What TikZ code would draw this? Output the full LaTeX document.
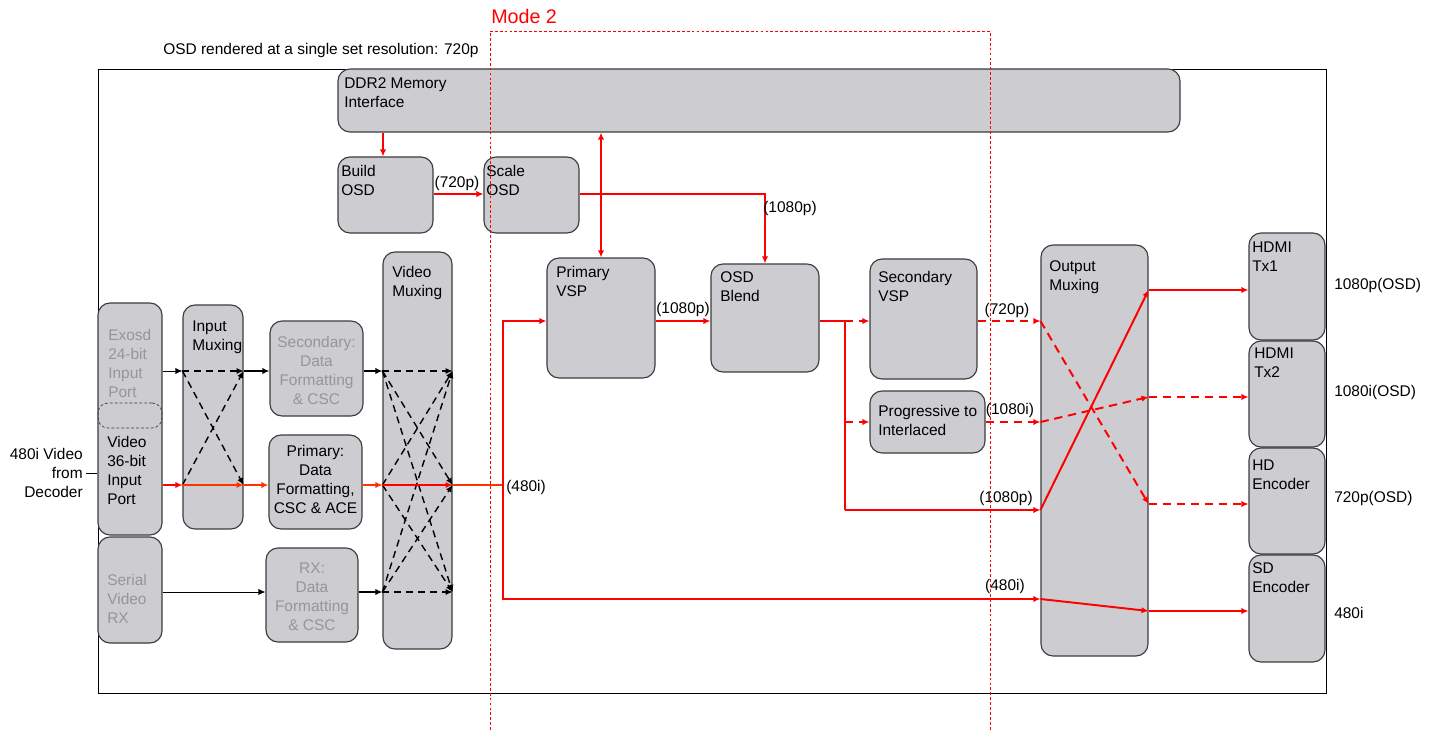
\documentclass[tikz,border=0pt]{standalone}
\usepackage{fontspec}
\setmainfont{Liberation Sans}
\usepackage{tikz}
\usetikzlibrary{positioning,arrows.meta,calc,fit}

\definecolor{boxgray}{RGB}{205,205,209}
\definecolor{boxline}{RGB}{60,60,60}
\definecolor{dimtext}{RGB}{150,150,150}
\definecolor{ored}{RGB}{255,51,0}

\begin{document}
\begin{tikzpicture}[
      x=0.025cm, y=-0.025cm,
      >={Latex[length=5pt,width=4.5pt]}
    ]

    \tikzstyle{blk} = [draw=boxline, fill=boxgray, rounded corners=0.3cm, inner sep=0pt, line width=0.8pt]
    \tikzstyle{txt} = [inner sep=0pt, font=\fontsize{11}{13.5}\selectfont, align=left]
    \tikzstyle{greytext} = [text=dimtext]
    \tikzstyle{sig} = [->, draw=black, line width=0.7pt]
    \tikzstyle{vid} = [->, draw=red, line width=1.4pt]
    \tikzstyle{vidalt} = [vid, dash pattern=on 6pt off 4pt]
    \tikzstyle{muxpath} = [->, draw=black, line width=1pt, dash pattern=on 5pt off 3.5pt]

    \useasboundingbox (0,0) rectangle (1436,730);

    % rows and columns of the signal paths
    \coordinate (rowA) at (0,371);
    \coordinate (rowB) at (0,485);
    \coordinate (rowC) at (0,592);
    \coordinate (rowO) at (0,194);
    \coordinate (rowV) at (0,321);
    \coordinate (rowP) at (0,422);
    \coordinate (rowQ) at (0,510);
    \coordinate (rowS) at (0,599);
    \coordinate (outA) at (0,290);
    \coordinate (outB) at (0,397);
    \coordinate (outC) at (0,504);
    \coordinate (outD) at (0,611);
    \coordinate (colD) at (383,0);
    \coordinate (colB) at (503,0);
    \coordinate (colF) at (845,0);

    % chip outline
    \node [draw, line width=0.7pt, inner sep=0pt, fit={(98,69) (1326,693)}] (chip) {};
    \node [txt, anchor=west] (osdnote) at (163,51) {OSD rendered at a single set resolution: 720p};

    % blocks
    \node [blk, fit={(98,303) (162,535)}] (ports) {};
    \node [draw=boxline, line width=0.5pt, dash pattern=on 2pt off 1.5pt, rounded corners=0.25cm, inner sep=0pt, fit={(98,403) (162,428)}] (portsplit) {};
    \node [blk, fit={(98,537) (162,643)}] (serial) {};
    \node [blk, fit={(183,305) (243,529)}] (inmux) {};
    \node [blk, fit={(270,321) (363,416)}] (secfmt) {};
    \node [blk, fit={(269,435) (362,529)}] (prifmt) {};
    \node [blk, fit={(266,548) (358,642)}] (rxfmt) {};
    \node [blk, fit={(383,252) (452,649)}] (vmux) {};
    \node [blk, fit={(338,69) (1180,132)}] (ddr) {};
    \node [blk, fit={(338,157) (433,233)}] (build) {};
    \node [blk, fit={(484,157) (579,233)}] (scale) {};
    \node [blk, fit={(547,258) (655,378)}] (pvsp) {};
    \node [blk, fit={(711,264) (819,372)}] (blend) {};
    \node [blk, fit={(870,259) (977,379)}] (svsp) {};
    \node [blk, fit={(870,391) (985,453)}] (p2i) {};
    \node [blk, fit={(1041,245) (1148,656)}] (outmux) {};
    \node [blk, fit={(1249,233) (1325,340)}] (hdmi1) {};
    \node [blk, fit={(1249,341) (1325,447)}] (hdmi2) {};
    \node [blk, fit={(1249,448) (1325,554)}] (hdenc) {};
    \node [blk, fit={(1249,555) (1325,662)}] (sdenc) {};

    % block names
    \node [txt, greytext, anchor=north west] (ports-t1) at (108,329.5) {Exosd\\24-bit\\Input\\Port};
    \node [txt, anchor=north west] (ports-t2) at (107,436.5) {Video\\36-bit\\Input\\Port};
    \node [txt, greytext, anchor=north west] (serial-t) at (107,574.5) {Serial\\Video\\RX};
    \node [txt, anchor=north west] (inmux-t) at (192,320.5) {Input\\Muxing};
    \node [txt, greytext, align=center, anchor=north] (secfmt-t) at (316.5,336.5) {Secondary:\\Data\\Formatting\\\& CSC};
    \node [txt, align=center, anchor=north] (prifmt-t) at (315.5,445.5) {Primary:\\Data\\Formatting,\\CSC \& ACE};
    \node [txt, greytext, align=center, anchor=north] (rxfmt-t) at (312,562.5) {RX:\\Data\\Formatting\\\& CSC};
    \node [txt, anchor=north west] (vmux-t) at (392,266.5) {Video\\Muxing};
    \node [txt, anchor=north west] (ddr-t) at (344,77.5) {DDR2 Memory\\Interface};
    \node [txt, anchor=north west] (build-t) at (341,165.5) {Build\\OSD};
    \node [txt, anchor=north west] (scale-t) at (486,165.5) {Scale\\OSD};
    \node [txt, anchor=north west] (pvsp-t) at (556,266.5) {Primary\\VSP};
    \node [txt, anchor=north west] (blend-t) at (720,271.5) {OSD\\Blend};
    \node [txt, anchor=north west] (svsp-t) at (878,271.5) {Secondary\\VSP};
    \node [txt, anchor=north west] (p2i-t) at (878,405.5) {Progressive to\\Interlaced};
    \node [txt, anchor=north west] (outmux-t) at (1049,260.5) {Output\\Muxing};
    \node [txt, anchor=north west] (hdmi1-t) at (1252,241.5) {HDMI\\Tx1};
    \node [txt, anchor=north west] (hdmi2-t) at (1254,347.5) {HDMI\\Tx2};
    \node [txt, anchor=north west] (hdenc-t) at (1252,459.5) {HD\\Encoder};
    \node [txt, anchor=north west] (sdenc-t) at (1252,562.5) {SD\\Encoder};
    \node [txt, align=right, anchor=east] (decoder) at (83,473) {480i Video\\from\\Decoder};

    % input side
    \draw [line width=0.7pt] ([xshift=2pt]decoder.east) -- (ports.west |- decoder.east);
    \draw [sig] (ports.east |- rowA) -- (inmux.west |- rowA);
    \draw [vid] (ports.east |- rowB) -- (inmux.west |- rowB);
    \draw [sig] (serial.east |- rowC) -- (rxfmt.west |- rowC);
    \draw [muxpath] (inmux.west |- rowA) -- (inmux.east |- rowA);
    \draw [muxpath] (inmux.west |- rowA) -- (inmux.east |- rowB);
    \draw [muxpath] (inmux.west |- rowB) -- (inmux.east |- rowA);
    \draw [vid, draw=ored, line width=1pt] (inmux.west |- rowB) -- (inmux.east |- rowB);
    \draw [sig, line width=1pt] (inmux.east |- rowA) -- (secfmt.west |- rowA);
    \draw [vid, draw=ored, line width=1pt] (inmux.east |- rowB) -- (prifmt.west |- rowB);
    \draw [sig, line width=1pt] (secfmt.east |- rowA) -- (vmux.west |- rowA);
    \draw [vid, draw=ored, line width=1pt] (prifmt.east |- rowB) -- (vmux.west |- rowB);
    \draw [sig, line width=1pt] (rxfmt.east |- rowC) -- (vmux.west |- rowC);
    \foreach \p/\q in {rowA/rowA, rowA/rowB, rowA/rowC, rowB/rowA, rowB/rowC, rowC/rowA, rowC/rowB, rowC/rowC}
      \draw [muxpath] (vmux.west |- \p) -- (vmux.east |- \q);
    \draw [vid] (vmux.west |- rowB) -- (vmux.east |- rowB);
    \draw [vid, -, draw=ored] (vmux.east |- rowB) -- (colB |- rowB);
    \draw [vid] (colB |- rowB) |- (pvsp.west |- rowV);
    \draw [vid] (colB |- rowB) |- (outmux.west |- rowS);

    % OSD path
    \draw [vid] (ddr.south -| colD) -- (build.north -| colD);
    \draw [vid] (build.east |- rowO) -- (scale.west |- rowO);
    \draw [vid] (scale.east |- rowO) -| (blend.north);
    \draw [vid, <->] (pvsp.north |- ddr.south) -- (pvsp.north);
    \draw [vid] (pvsp.east |- rowV) -- (blend.west |- rowV);
    \draw [vid, -] (blend.east |- rowV) -| (colF |- rowQ);
    \draw [vidalt] (colF |- rowV) -- (svsp.west |- rowV);
    \draw [vidalt] (colF |- rowP) -- (p2i.west |- rowP);
    \draw [vid] (colF |- rowQ) -- (outmux.west |- rowQ);
    \draw [vidalt] (svsp.east |- rowV) -- (outmux.west |- rowV);
    \draw [vidalt] (p2i.east |- rowP) -- (outmux.west |- rowP);

    % output muxing
    \draw [vidalt] (outmux.west |- rowV) -- (outmux.east |- outC);
    \draw [vidalt] (outmux.west |- rowP) -- (outmux.east |- outB);
    \draw [vid] (outmux.west |- rowQ) -- (outmux.east |- outA);
    \draw [vid] (outmux.west |- rowS) -- (outmux.east |- outD);
    \draw [vid] (outmux.east |- outA) -- (hdmi1.west |- outA);
    \draw [vidalt] (outmux.east |- outB) -- (hdmi2.west |- outB);
    \draw [vidalt] (outmux.east |- outC) -- (hdenc.west |- outC);
    \draw [vid] (outmux.east |- outD) -- (sdenc.west |- outD);

    % signal formats
    \node [txt] (fmt-build) at (457,183) {(720p)};
    \node [txt] (fmt-scale) at (790,208) {(1080p)};
    \node [txt] (fmt-pvsp) at (683,309) {(1080p)};
    \node [txt, anchor=west] (fmt-bus) at (506,487) {(480i)};
    \node [txt] (fmt-svsp) at (1007,310) {(720p)};
    \node [txt] (fmt-p2i) at (1010,410) {(1080i)};
    \node [txt] (fmt-fork) at (1006,498) {(1080p)};
    \node [txt] (fmt-sd) at (1005,586) {(480i)};
    \node [txt, anchor=west] (res1) at (1334,285) {1080p(OSD)};
    \node [txt, anchor=west] (res2) at (1334,392) {1080i(OSD)};
    \node [txt, anchor=west] (res3) at (1334,498) {720p(OSD)};
    \node [txt, anchor=west] (res4) at (1334,613) {480i};

    % mode 2 region
    \draw [red, line width=0.6pt, dash pattern=on 2pt off 1.5pt] (490,730) |- (990,31) -- (990,730);
    \node [txt, text=red, font=\fontsize{14}{16}\selectfont, anchor=west] (mode) at (491,16) {Mode 2};

\end{tikzpicture}
\end{document}
